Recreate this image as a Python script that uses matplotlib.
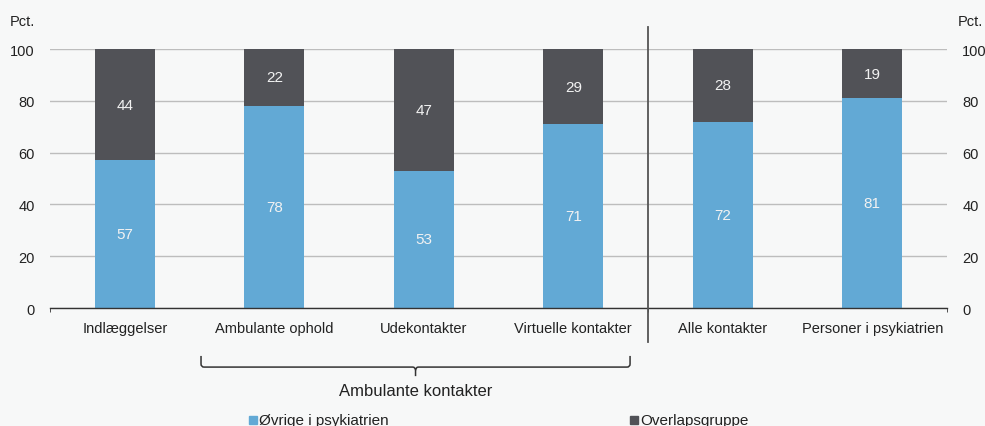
import numpy as np
import matplotlib.pyplot as plt
from matplotlib.path import Path
from matplotlib.patches import PathPatch, Rectangle
import matplotlib.transforms as mtransforms

plt.rcParams['font.family'] = ['Liberation Sans', 'DejaVu Sans']

# data
categories = ['Indlæggelser', 'Ambulante ophold', 'Udekontakter', 'Virtuelle kontakter',
              'Alle kontakter', 'Personer i psykiatrien']
ovrige = [57, 78, 53, 71, 72, 81]
overlap = [44, 22, 47, 29, 28, 19]
series_names = ['Øvrige i psykiatrien', 'Overlapsgruppe']
group_label = 'Ambulante kontakter'
yticks = [0, 20, 40, 60, 80, 100]

blue = '#62a9d5'
dark = '#515257'
bg = '#f7f8f8'

fig = plt.figure(figsize=(9.85, 4.27), dpi=100, facecolor=bg)
ax = fig.add_axes([0.0508, 0.2763, 0.9106, 0.6066], facecolor=bg)

x = np.arange(len(categories))
ax.bar(x, ovrige, width=0.4, color=blue, zorder=2)
ax.bar(x, overlap, width=0.4, bottom=ovrige, color=dark, zorder=2)

for xi, a, b in zip(x, ovrige, overlap):
    ax.text(xi, a / 2, str(a), ha='center', va='center', color='#f2f2f2', fontsize=11, zorder=3)
    ax.text(xi, a + min(b, 100 - a) / 2, str(b), ha='center', va='center',
            color='#f2f2f2', fontsize=11, zorder=3)

ax.set_xlim(-0.5, len(categories) - 0.5)
ax.set_ylim(0, 100)
ax.set_yticks(yticks)
ax.tick_params(axis='y', length=0, labelsize=10.5, pad=11, colors='#222222',
               labelright=True, right=False)
ax.yaxis.grid(True, color='#bdbdbd', lw=1.0, zorder=0)
ax.set_xticks(x)
ax.set_xticklabels(categories)
ax.tick_params(axis='x', length=0, labelsize=10.5, pad=9, colors='#222222')
ax.set_xticks([-0.5, 3.5, 5.5], minor=True)
ax.tick_params(axis='x', which='minor', length=3, direction='out', color='#333333')
for s in ['top', 'left', 'right']:
    ax.spines[s].set_visible(False)
ax.spines['bottom'].set_color('#333333')
ax.spines['bottom'].set_linewidth(1.0)

# separator between the two groups
ax.axvline(3.5, ymin=-0.131, ymax=1.085, color='#555555', lw=1.3, clip_on=False, zorder=4)

# brace below the ambulant categories
tr = mtransforms.blended_transform_factory(ax.transData, ax.transAxes)
x0, x1, xm = 0.51, 3.38, 1.945
yt, yl, ytip = -0.185, -0.228, -0.263
rx, ry = 0.02, 0.012
verts = [(x0, yt), (x0, yl + ry), (x0, yl), (x0 + rx, yl),
         (xm - rx, yl), (xm, yl), (xm, yl - ry), (xm, ytip),
         (xm, yl - ry), (xm, yl), (xm + rx, yl),
         (x1 - rx, yl), (x1, yl), (x1, yl + ry), (x1, yt)]
codes = [Path.MOVETO, Path.LINETO, Path.CURVE3, Path.CURVE3,
         Path.LINETO, Path.CURVE3, Path.CURVE3, Path.LINETO,
         Path.MOVETO, Path.CURVE3, Path.CURVE3,
         Path.LINETO, Path.CURVE3, Path.CURVE3, Path.LINETO]
ax.add_patch(PathPatch(Path(verts, codes), transform=tr, fill=False, edgecolor='#333333',
                       lw=1.1, clip_on=False))
ax.text(xm, -0.32, group_label, transform=tr, ha='center', va='center', fontsize=12,
        color='#222222')

# unit labels
fig.text(10 / 985, 1 - 22 / 427, 'Pct.', ha='left', va='center', fontsize=10.5, color='#222222')
fig.text(958 / 985, 1 - 22 / 427, 'Pct.', ha='left', va='center', fontsize=10.5, color='#222222')

# legend
leg_y = 1 - 421 / 427
for (lx, name, col) in [(249, series_names[0], blue), (630, series_names[1], dark)]:
    fig.patches.append(Rectangle((lx / 985, leg_y - 4 / 427), 8 / 985, 8 / 427,
                                 transform=fig.transFigure, color=col))
    fig.text((lx + 10) / 985, leg_y, name, ha='left', va='center', fontsize=11,
             color='#222222')

fig.savefig('out.png', dpi=100, facecolor=bg)
